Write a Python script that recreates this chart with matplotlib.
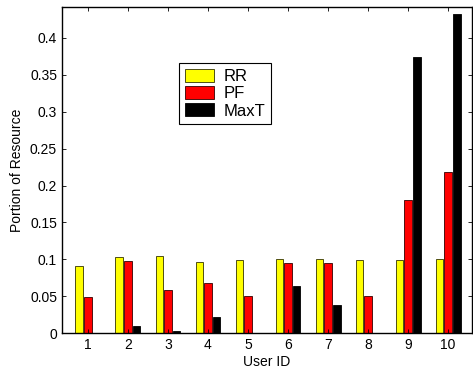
import matplotlib
matplotlib.use('Agg')
import matplotlib.pyplot as plt
import numpy as np

plt.rcParams['font.family'] = ['Liberation Sans', 'DejaVu Sans']

users = np.arange(1, 11)
rr = [0.091, 0.103, 0.104, 0.097, 0.0985, 0.100, 0.1003, 0.0993, 0.0993, 0.101]
pf = [0.049, 0.098, 0.058, 0.068, 0.050, 0.0944, 0.0949, 0.0506, 0.180, 0.218]
maxt = [0.0005, 0.0099, 0.0036, 0.0217, 0.0005, 0.0637, 0.038, 0.0005, 0.374, 0.432]

fig = plt.figure(figsize=(4.73, 3.71), dpi=100)
ax = fig.add_axes([0.131, 0.102, 0.867, 0.879])

offset = 0.222
width = 0.18
ax.bar(users - offset, rr, width, color='yellow', edgecolor='#333300', linewidth=0.6, label='RR')
ax.bar(users, pf, width, color='red', edgecolor='#330000', linewidth=0.6, label='PF')
ax.bar(users + offset, maxt, width, color='black', edgecolor='black', linewidth=0.6, label='MaxT')

ax.set_xlim(0.35, 10.6)
ax.set_ylim(0, 0.4418)
ax.set_xticks(users)
ax.set_yticks(np.arange(0, 0.41, 0.05))
ax.set_yticklabels(['0', '0.05', '0.1', '0.15', '0.2', '0.25', '0.3', '0.35', '0.4'])
ax.tick_params(direction='in', top=True, right=True, labelsize=10, length=3, width=0.6)
for s in ax.spines.values():
    s.set_linewidth(1.0)

ax.set_xlabel('User ID', fontsize=10, labelpad=2)
ax.set_ylabel('Portion of Resource', fontsize=10, labelpad=4)

leg = ax.legend(loc='upper left', bbox_to_anchor=(0.285, 0.828), fontsize=12,
                fancybox=False, edgecolor='black', framealpha=1,
                handlelength=1.75, handleheight=0.85, borderpad=0.35,
                labelspacing=0.1, handletextpad=0.6, borderaxespad=0)
leg.get_frame().set_linewidth(0.8)

fig.savefig('out.png', dpi=100)
